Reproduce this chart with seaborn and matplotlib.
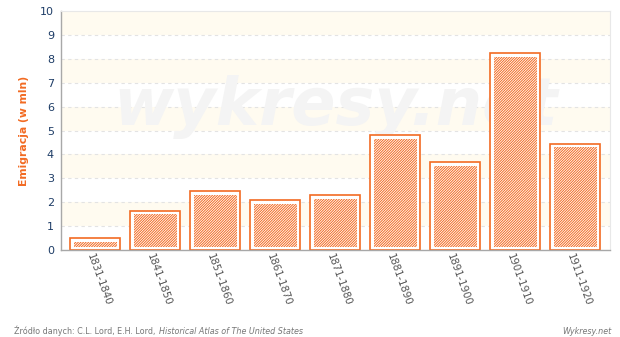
import matplotlib
matplotlib.use("Agg")
import matplotlib.pyplot as plt
import matplotlib.transforms as mtransforms
import seaborn as sns
import pandas as pd
import numpy as np

categories = ["1831-1840", "1841-1850", "1851-1860", "1861-1870", "1871-1880",
              "1881-1890", "1891-1900", "1901-1910", "1911-1920"]
values = [0.5, 1.64, 2.46, 2.09, 2.3, 4.81, 3.68, 8.24, 4.44]
y_ticks = list(range(0, 11))

ORANGE = "#f26b23"
sns.set_style("white")
plt.rcParams['font.family'] = ['DejaVu Sans']
plt.rcParams['hatch.linewidth'] = 0.7
plt.rcParams['hatch.color'] = ORANGE

df = pd.DataFrame({"okres": categories, "emigracja": values})

fig = plt.figure(figsize=(6.2, 3.37), dpi=100)
ax = fig.add_axes([61/620, 87/337, 549/620, 239/337])

# alternating bands
for k in range(1, 10, 2):
    ax.axhspan(k, k + 1, color="#fffbf0", zorder=0, lw=0)
for t in y_ticks[1:-1]:
    ax.axhline(t, color="#e3e3e3", lw=0.8, ls=(0, (3, 3)), zorder=0.5)

ax.text(0.5, 0.6, "wykresy.net", transform=ax.transAxes, fontsize=47,
        fontweight="bold", fontstyle="italic", color="#f4f4f4",
        ha="center", va="center", zorder=0.6)

BW = 50 / 60
sns.barplot(data=df, x="okres", y="emigracja", ax=ax, width=BW,
            color="white", edgecolor=ORANGE, linewidth=1.2, saturation=1,
            zorder=2)

# inner hatched rectangles
x = np.arange(len(categories))
inset_x = 3.5 / 60
inset_y = 3.5 / 23.9
inner_w = BW - 2 * inset_x
ax.bar(x, np.array(values) - 2 * inset_y, bottom=inset_y, width=inner_w,
       color="white", edgecolor=ORANGE, linewidth=0, hatch="/" * 13, zorder=3)

ax.set_xlim(-0.5 - 4/60, len(categories) - 0.5 + 5/60)
ax.set_ylim(0, 10)
ax.set_yticks(y_ticks)
ax.tick_params(axis="y", labelsize=8, colors="#1d3c66", length=3, width=0.8, pad=2)
ax.tick_params(axis="y", color="#a0a0a0")
ax.tick_params(axis="x", length=0, pad=3)
ax.set_xticks(x)
ax.set_xticklabels(categories, rotation=-70, ha="left", va="center",
                   rotation_mode="anchor", fontsize=7.3, color="#555555")
offset = mtransforms.ScaledTranslation(-5/100, 0, fig.dpi_scale_trans)
for lab in ax.get_xticklabels():
    lab.set_transform(lab.get_transform() + offset)
ax.set_xlabel("")
ax.set_ylabel("Emigracja (w mln)", color=ORANGE, fontsize=7.8,
              fontweight="bold", labelpad=8)

for s in ["left", "bottom"]:
    ax.spines[s].set_color("#a8a8a8")
    ax.spines[s].set_linewidth(1)
for s in ["top", "right"]:
    ax.spines[s].set_color("#e8e8e8")
    ax.spines[s].set_linewidth(0.8)

yf = 1 - 331/337
t1 = fig.text(14/620, yf, "Źródło danych: C.L. Lord, E.H. Lord, ",
              fontsize=5.8, color="#777777", va="center")
fig.canvas.draw()
bb = t1.get_window_extent()
fig.text(bb.x1 / 620 + 1/620, yf, "Historical Atlas of The United States",
         fontsize=5.8, color="#777777", fontstyle="italic", va="center")
fig.text(611/620, yf, "Wykresy.net", fontsize=5.8, color="#777777",
         fontstyle="italic", va="center", ha="right")

fig.savefig("out.png", dpi=100, facecolor="white")
